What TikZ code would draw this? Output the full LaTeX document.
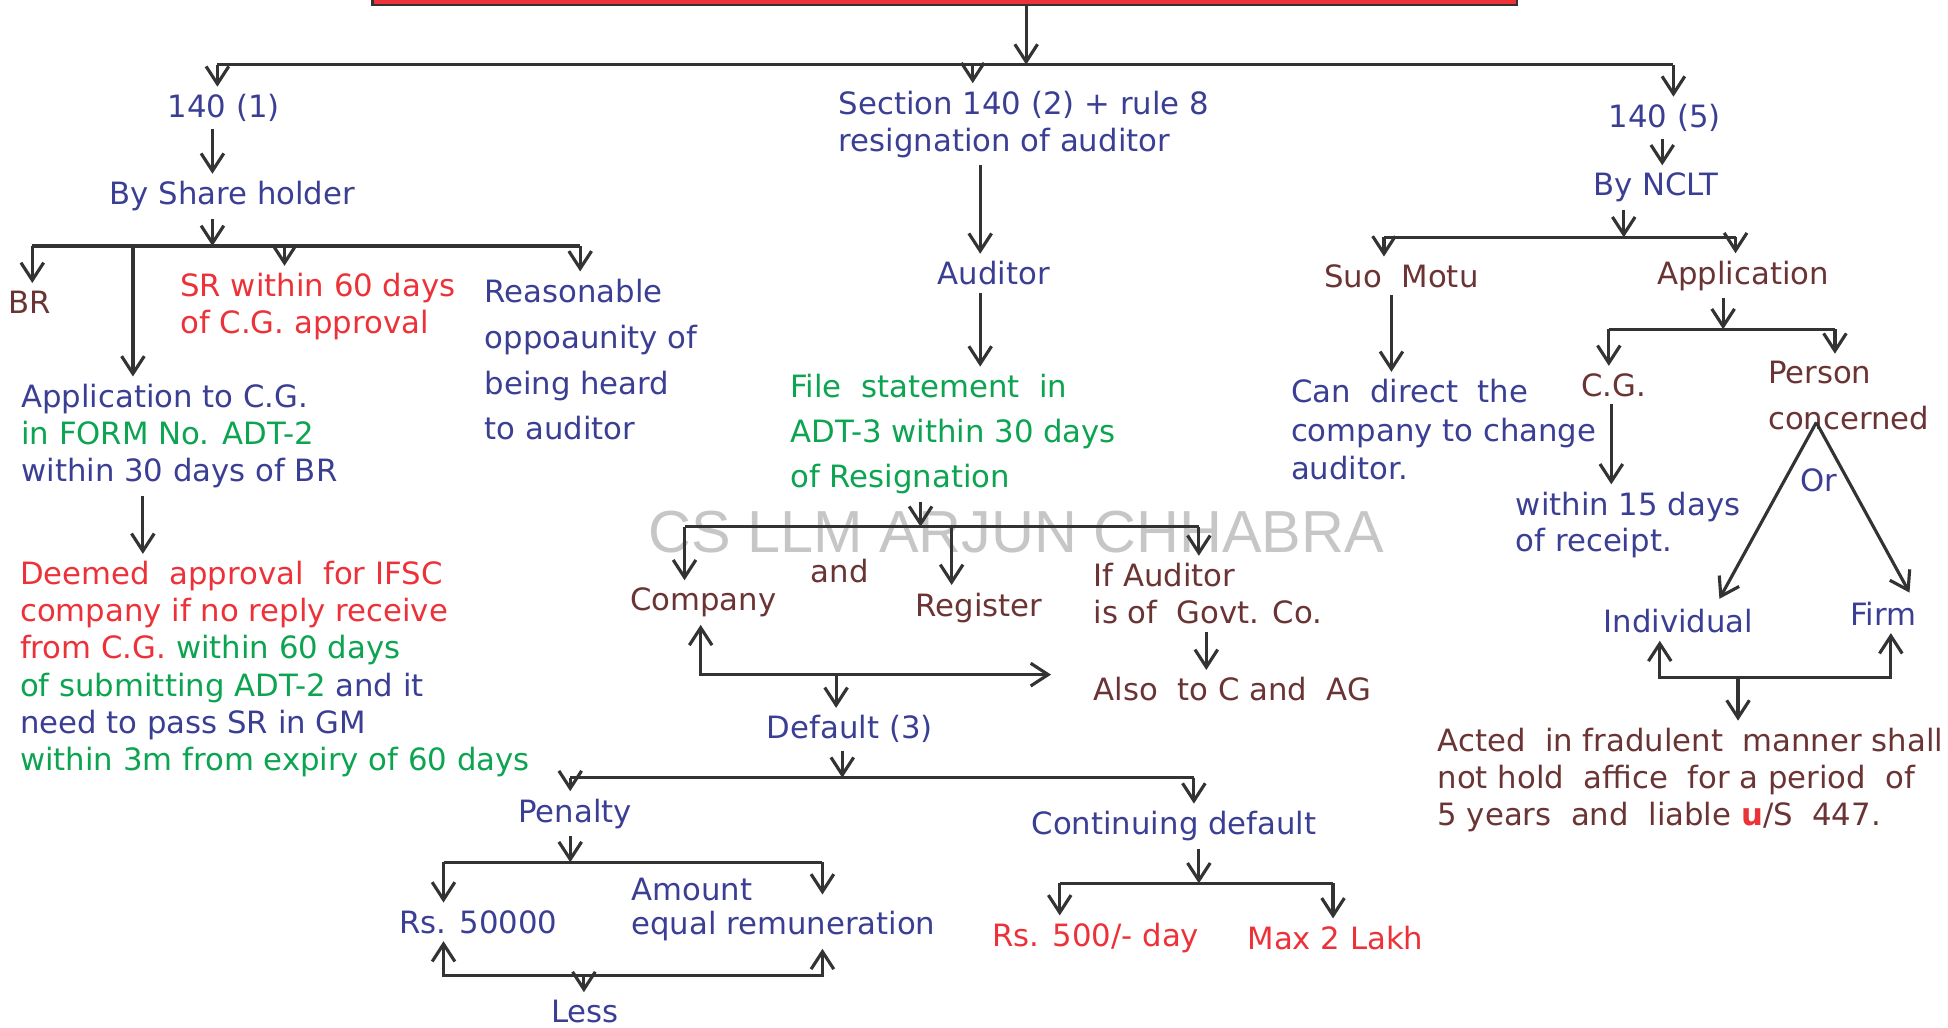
\documentclass[tikz,border=0pt]{standalone}
\usepackage{fontspec}
\setmainfont{DejaVu Sans}
\newfontfamily\wmfont{Liberation Sans}
\usetikzlibrary{arrows.meta,positioning}
\definecolor{cgblue}{RGB}{59,63,148}
\definecolor{cgred}{RGB}{236,50,56}
\definecolor{cggreen}{RGB}{12,164,81}
\definecolor{cgbrown}{RGB}{107,52,52}
\definecolor{linegray}{RGB}{51,51,51}
\definecolor{barred}{RGB}{238,50,58}
\tikzset{
  ln/.style={line width=0.9pt, draw=linegray},
  arr/.style={ln, -{Straight Barb[length=5pt,width=6.5pt]}},
  dbl/.style={ln, {Straight Barb[length=5pt,width=6.5pt]}-{Straight Barb[length=5pt,width=6.5pt]}},
  txt/.style={inner sep=2pt, font=\fontsize{8.8}{10.6}\selectfont, align=left},
  tblue/.style={txt, text=cgblue},
  tred/.style={txt, text=cgred},
  tgreen/.style={txt, text=cggreen},
  tbrown/.style={txt, text=cgbrown}
}
\begin{document}
\begin{tikzpicture}[x=0.125mm, y=-0.125mm]
  \useasboundingbox (0,0) rectangle (1568,827);
  % watermark
  \node[text=gray!45, font=\wmfont\fontsize{17}{17}\selectfont] (wm) at (818,428) {CS LLM ARJUN CHHABRA};
  % title bar (cut off)
  \draw[draw=linegray, fill=barred, line width=0.8pt] (300,-30) rectangle (1221,4);
  \coordinate (t0) at (826,5);
  \coordinate (t1) at (826,52);
  \coordinate (tL) at (175,52);
  \coordinate (tM) at (783,52);
  \coordinate (tR) at (1347,52);

  % ---- 140 (1)
  \node[tblue] (n140a) at (180,87) {140 (1)};
  \node[tblue] (bysh) at (187,158) {By Share holder};
  \node[tbrown] (br) at (24,243) {BR};
  \node[tred, anchor=west] (srcg) at (139,247) {SR within 60 days\\of C.G. approval};
  \node[tblue, anchor=west, font=\fontsize{8.8}{13.1}\selectfont] (reas) at (384,289.5) {Reasonable\\oppoaunity of\\being heard\\to auditor};
  \node[tblue, anchor=west] (appcg) at (11,351) {Application to C.G.\\{\color{cggreen}in FORM No. ADT-2}\\within 30 days of BR};
  \node[tred, anchor=west] (deem) at (10,538.5) {Deemed\ \ approval\ \ for IFSC\\company if no reply receive\\from C.G. {\color{cggreen}within 60 days}\\{\color{cggreen}of submitting ADT-2} {\color{cgblue}and it}\\{\color{cgblue}need to pass SR in GM}\\{\color{cggreen}within 3m from expiry of 60 days}};

  % ---- 140 (2)
  \node[tblue, anchor=west] (sec) at (669,100) {Section 140 (2) + rule 8\\resignation of auditor};
  \node[tblue] (aud) at (800,220) {Auditor};
  \node[tgreen, anchor=west, font=\fontsize{8.8}{12.9}\selectfont] (file) at (630,349.5) {File\ \ statement\ \ in\\ADT-3 within 30 days\\of Resignation};
  \node[tbrown] (comp) at (566,485) {Company};
  \node[tbrown] (andn) at (676,460) {and};
  \node[tbrown] (regi) at (788,489) {Register};
  \node[tbrown, anchor=west] (ifaud) at (874,478) {If Auditor\\is of\ \ Govt. Co.};
  \node[tbrown, anchor=west] (alsoc) at (874,555) {Also\ \ to C and\ \ AG};
  \node[tblue] (dflt) at (684,587) {Default (3)};
  \node[tblue] (pen) at (463,655) {Penalty};
  \node[tblue] (cont) at (945,665) {Continuing default};
  \node[tblue] (rs50) at (385,742) {Rs. 50000};
  \node[tblue, anchor=west, font=\fontsize{8.8}{9.9}\selectfont] (amt) at (502,732) {Amount\\equal remuneration};
  \node[tblue] (less) at (471,814) {Less};
  \node[tred] (rs500) at (882,755) {Rs. 500/- day};
  \node[tred] (max2) at (1075,755) {Max 2 Lakh};

  % ---- 140 (5)
  \node[tblue] (n140e) at (1340,95) {140 (5)};
  \node[tblue] (ncl) at (1333,151) {By NCLT};
  \node[tbrown] (suo) at (1128,222) {Suo\ \ Motu};
  \node[tbrown] (appl) at (1403,222) {Application};
  \node[tblue, anchor=west, font=\fontsize{8.8}{11}\selectfont] (cand) at (1033,346) {Can\ \ direct\ \ the\\company to change\\auditor.};
  \node[tbrown] (cg) at (1299,310) {C.G.};
  \node[tbrown, anchor=west, font=\fontsize{8.8}{13.1}\selectfont] (pers) at (1417,318.5) {Person\\concerned};
  \node[tblue, anchor=west, font=\fontsize{8.8}{10.3}\selectfont] (w15) at (1214,422.5) {within 15 days\\of receipt.};
  \node[tblue] (orn) at (1464,387) {Or};
  \node[tblue] (indiv) at (1351,500) {Individual};
  \node[tblue] (firm) at (1516,494) {Firm};
  \node[tbrown, anchor=west] (acted) at (1151,628) {Acted\ \ in fradulent\ \ manner shall\\not hold\ \ affice\ \ for a period\ \ of\\5 years\ \ and\ \ liable {\color{cgred}\textbf{u}}/S\ \ 447.};

  % top bus
  \draw[arr] (t0) -- (t1);
  \draw[ln] (tL) -- (tR);
  \draw[arr] (tL) -- (tL |- n140a.north);
  \draw[arr] (tM) -- (tM |- sec.north);
  \draw[arr] (tR) -- (tR |- n140e.north);

  % left branch
  \coordinate (c1) at (171,0);
  \coordinate (b1) at (171,198);
  \coordinate (b1L) at (26,198);
  \coordinate (b1a) at (107,198);
  \coordinate (b1s) at (229,198);
  \coordinate (b1R) at (467,198);
  \coordinate (c2) at (115,0);
  \draw[arr] (n140a.south -| c1) -- (bysh.north -| c1);
  \draw[arr] (bysh.south -| b1) -- (b1);
  \draw[ln] (b1L) -- (b1R);
  \draw[arr] (b1L) -- (b1L |- br.north);
  \draw[arr] (b1a) -- (b1a |- appcg.north);
  \draw[arr] (b1s) -- (b1s |- srcg.north);
  \draw[arr] (b1R) -- (b1R |- reas.north);
  \draw[arr] (appcg.south -| c2) -- (deem.north -| c2);

  % middle branch
  \coordinate (c3) at (789,0);
  \coordinate (b2) at (741,424);
  \coordinate (b2L) at (551,424);
  \coordinate (b2r) at (766,424);
  \coordinate (b2R) at (965,424);
  \coordinate (c4) at (971,0);
  \coordinate (k1) at (564,543);
  \coordinate (k2) at (846,543);
  \coordinate (k3) at (673,543);
  \draw[arr] (sec.south -| c3) -- (aud.north -| c3);
  \draw[arr] (aud.south -| c3) -- (file.north -| c3);
  \draw[arr] (file.south -| b2) -- (b2);
  \draw[ln] (b2L) -- (b2R);
  \draw[arr] (b2L) -- (b2L |- comp.north);
  \draw[arr] (b2r) -- (b2r |- regi.north);
  \draw[arr] (b2R) -- (b2R |- ifaud.north);
  \draw[arr] (ifaud.south -| c4) -- (alsoc.north -| c4);
  \draw[dbl] (comp.south -| k1) -- (k1) -- (k2);
  \draw[arr] (k3) -- (k3 |- dflt.north);

  % default (3)
  \coordinate (b3) at (678,626);
  \coordinate (b3L) at (459,626);
  \coordinate (b3R) at (961,626);
  \coordinate (b4) at (459,694);
  \coordinate (b4L) at (357,694);
  \coordinate (b4R) at (662,694);
  \coordinate (k4L) at (357,785);
  \coordinate (k4R) at (662,785);
  \coordinate (k5) at (470,785);
  \coordinate (b5) at (965,711);
  \coordinate (b5L) at (853,711);
  \coordinate (b5R) at (1073,711);
  \draw[arr] (dflt.south -| b3) -- (b3);
  \draw[ln] (b3L) -- (b3R);
  \draw[arr] (b3L) -- (b3L |- pen.north);
  \draw[arr] (b3R) -- (b3R |- cont.north);
  \draw[arr] (pen.south -| b4) -- (b4);
  \draw[ln] (b4L) -- (b4R);
  \draw[arr] (b4L) -- (b4L |- rs50.north);
  \draw[arr] (b4R) -- ++(0,26);
  \draw[dbl] (rs50.south -| k4L) -- (k4L) -- (k4R) -- (amt.south -| k4R);
  \draw[arr] (k5) -- (k5 |- less.north);
  \draw[arr] (cont.south -| b5) -- (b5);
  \draw[ln] (b5L) -- (b5R);
  \draw[arr] (b5L) -- (b5L |- rs500.north);
  \draw[arr] (b5R) -- (b5R |- max2.north);

  % right branch
  \coordinate (c5) at (1338,0);
  \coordinate (b6) at (1307,191);
  \coordinate (b6L) at (1114,191);
  \coordinate (b6R) at (1397,191);
  \coordinate (c6) at (1120,0);
  \coordinate (b7) at (1387,265);
  \coordinate (b7L) at (1295,265);
  \coordinate (b7R) at (1477,265);
  \coordinate (c7) at (1297,0);
  \coordinate (apex) at (1462,340);
  \coordinate (d1) at (1384,482);
  \coordinate (d2) at (1537,477);
  \coordinate (k6L) at (1336,545);
  \coordinate (k6R) at (1522,545);
  \coordinate (k7) at (1399,545);
  \draw[arr] (n140e.south -| c5) -- (ncl.north -| c5);
  \draw[arr] (ncl.south -| b6) -- (b6);
  \draw[ln] (b6L) -- (b6R);
  \draw[arr] (b6L) -- (b6L |- suo.north);
  \draw[arr] (b6R) -- (b6R |- appl.north);
  \draw[arr] (suo.south -| c6) -- (cand.north -| c6);
  \draw[arr] (appl.south -| b7) -- (b7);
  \draw[ln] (b7L) -- (b7R);
  \draw[arr] (b7L) -- (b7L |- cg.north);
  \draw[arr] (b7R) -- (b7R |- pers.north);
  \draw[arr] (cg.south -| c7) -- (w15.north -| c7);
  \draw[arr] (apex) -- (d1);
  \draw[arr] (apex) -- (d2);
  \draw[dbl] (indiv.south -| k6L) -- (k6L) -- (k6R) -- (firm.south -| k6R);
  \draw[arr] (k7) -- (k7 |- acted.north);
\end{tikzpicture}
\end{document}
